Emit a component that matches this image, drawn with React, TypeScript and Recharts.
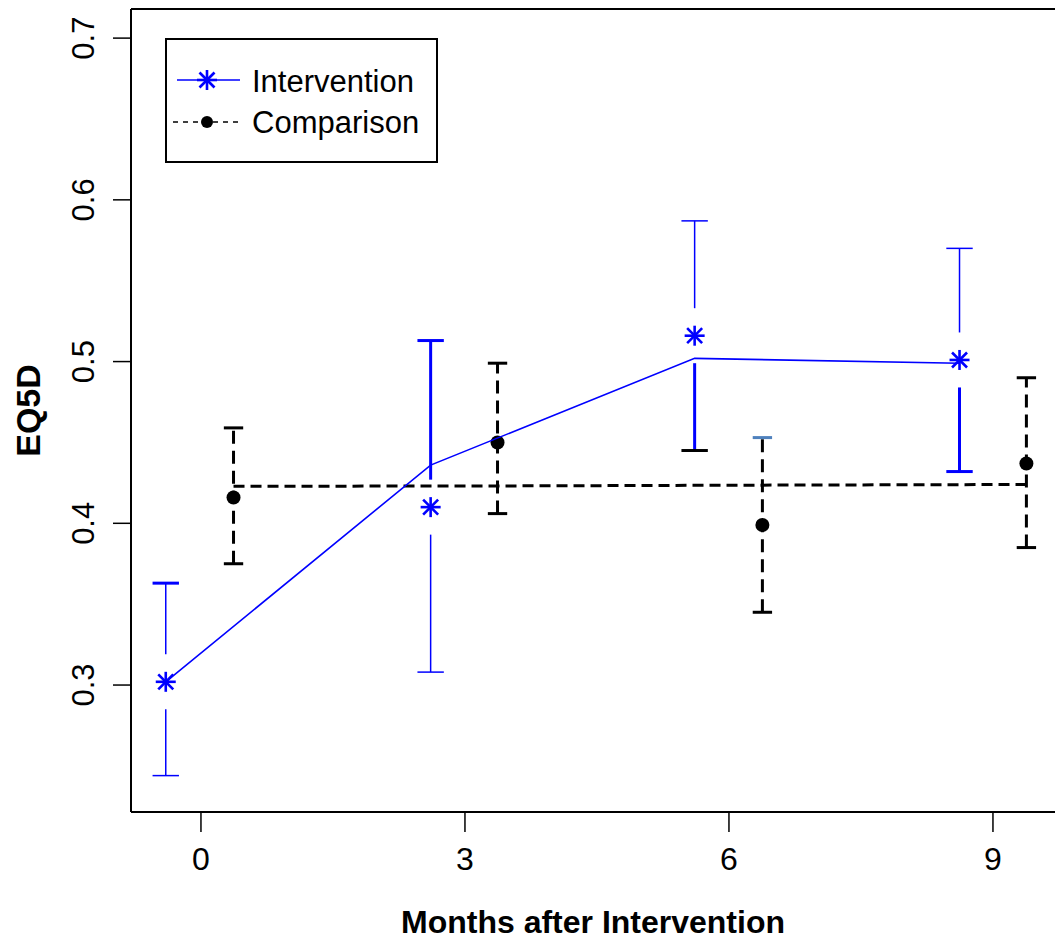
import React from "react";
import { ScatterChart, Scatter, XAxis, YAxis, ReferenceLine } from "recharts";

// months shown on the x axis and EQ5D ticks
const months = [0, 3, 6, 9];
const eqTicks = [0.3, 0.4, 0.5, 0.6, 0.7];

// intervention group (plotted slightly left of each month)
const interventionX = [-0.4, 2.61, 5.61, 8.62];
const interventionMean = [0.302, 0.41, 0.516, 0.501];
const interventionLow = [0.244, 0.308, 0.445, 0.432];
const interventionHigh = [0.363, 0.513, 0.587, 0.57];
const interventionFit = [0.302, 0.436, 0.502, 0.499];

// comparison group (plotted slightly right of each month)
const comparisonX = [0.37, 3.37, 6.38, 9.38];
const comparisonMean = [0.416, 0.45, 0.399, 0.437];
const comparisonLow = [0.375, 0.406, 0.345, 0.385];
const comparisonHigh = [0.459, 0.499, 0.453, 0.49];
const comparisonFit = [0.4229, 0.4231, 0.4236, 0.424];

const BLUE = "#0000ff";
const FONT = "'Liberation Sans', Arial, sans-serif";
const X_DOMAIN: [number, number] = [-0.795, 9.705];
const Y_DOMAIN: [number, number] = [0.2215, 0.718];
const STAR_GAP = 0.017; // whiskers stop short of the star marker

// some whiskers in the original were drawn twice and look heavier
const intUpperWidth = [1.5, 3, 1.5, 1.5];
const intLowerWidth = [1.5, 1.5, 3, 3];
const intUpperCapWidth = [3, 3, 1.5, 1.5];
const intLowerCapWidth = [1.5, 1.5, 3, 3];
const intLowerCapColor = [BLUE, BLUE, "#000000", BLUE];
const cmpUpperCapColor = ["#000000", "#000000", "#4f81bd", "#000000"];

const toRows = (xs: number[], ys: number[]) => xs.map((x, i) => ({ x, y: ys[i] }));

const interventionPoints = toRows(interventionX, interventionMean);
const interventionLine = toRows(interventionX, interventionFit);
const comparisonPoints = toRows(comparisonX, comparisonMean);
const comparisonLine = toRows(comparisonX, comparisonFit);

const seg = (
  key: string,
  x1: number,
  y1: number,
  x2: number,
  y2: number,
  stroke: string,
  width: number,
  dash?: string,
) => (
  <ReferenceLine
    key={key}
    segment={[
      { x: x1, y: y1 },
      { x: x2, y: y2 },
    ]}
    stroke={stroke}
    strokeWidth={width}
    strokeDasharray={dash}
  />
);

const Star = (props: any) => {
  const { cx, cy } = props;
  if (cx == null || cy == null) return <g />;
  const r = 10;
  const d = 7.5;
  return (
    <g stroke={BLUE} strokeWidth={2.6}>
      <line x1={cx - r} y1={cy} x2={cx + r} y2={cy} />
      <line x1={cx} y1={cy - r} x2={cx} y2={cy + r} />
      <line x1={cx - d} y1={cy - d} x2={cx + d} y2={cy + d} />
      <line x1={cx - d} y1={cy + d} x2={cx + d} y2={cy - d} />
    </g>
  );
};

const Dot = (props: any) => {
  const { cx, cy } = props;
  if (cx == null || cy == null) return <g />;
  return <circle cx={cx} cy={cy} r={7} fill="#000000" />;
};

const NoShape = () => <g />;

const XTick = (props: any) => {
  const { x, y, payload } = props;
  return (
    <text x={x} y={y} dy={36} textAnchor="middle" fontSize={32} fontFamily={FONT} fill="#000">
      {payload.value}
    </text>
  );
};

const YTick = (props: any) => {
  const { x, y, payload } = props;
  const bx = x - 17;
  return (
    <text
      x={bx}
      y={y}
      textAnchor="middle"
      fontSize={31}
      fontFamily={FONT}
      fill="#000"
      transform={`rotate(-90, ${bx}, ${y})`}
    >
      {payload.value.toFixed(1)}
    </text>
  );
};

const App: React.FC = () => {
  const intBars = interventionX.flatMap((x, i) => {
    const m = interventionMean[i];
    const lo = interventionLow[i];
    const hi = interventionHigh[i];
    const h = 0.15;
    return [
      seg(`iu${i}`, x, m + STAR_GAP, x, hi, BLUE, intUpperWidth[i]),
      seg(`iuc${i}`, x - h, hi, x + h, hi, BLUE, intUpperCapWidth[i]),
      seg(`il${i}`, x, lo, x, m - STAR_GAP, BLUE, intLowerWidth[i]),
      seg(`ilc${i}`, x - h, lo, x + h, lo, intLowerCapColor[i], intLowerCapWidth[i]),
    ];
  });

  const cmpBars = comparisonX.flatMap((x, i) => {
    const lo = comparisonLow[i];
    const hi = comparisonHigh[i];
    const h = 0.11;
    return [
      seg(`cv${i}`, x, lo, x, hi, "#000", 3, "13 7"),
      seg(`cuc${i}`, x - h, hi, x + h, hi, cmpUpperCapColor[i], 3),
      seg(`clc${i}`, x - h, lo, x + h, lo, "#000", 3),
    ];
  });

  return (
    <div style={{ position: "absolute", left: 0, top: 0, width: 1055, height: 945, fontFamily: FONT }}>
      <ScatterChart width={1055} height={945} margin={{ top: 9, right: 0, bottom: 0, left: 0 }}>
        <XAxis
          type="number"
          dataKey="x"
          domain={X_DOMAIN}
          ticks={months}
          allowDataOverflow
          height={133}
          tickSize={20}
          tick={<XTick />}
          tickLine={{ stroke: "#000", strokeWidth: 1.5 }}
          axisLine={{ stroke: "#000", strokeWidth: 2 }}
          label={{
            position: "insideBottom",
            content: (p: any) => (
              <text
                x={p.viewBox.x + p.viewBox.width / 2}
                y={933}
                textAnchor="middle"
                fontSize={32}
                fontWeight="bold"
                fontFamily={FONT}
                fill="#000"
              >
                Months after Intervention
              </text>
            ),
          }}
        />
        <YAxis
          type="number"
          dataKey="y"
          domain={Y_DOMAIN}
          ticks={eqTicks}
          allowDataOverflow
          width={131}
          tickSize={18}
          tick={<YTick />}
          tickLine={{ stroke: "#000", strokeWidth: 1.5 }}
          axisLine={{ stroke: "#000", strokeWidth: 2 }}
          label={{
            position: "insideLeft",
            content: (p: any) => {
              const cy = p.viewBox.y + p.viewBox.height / 2;
              return (
                <text
                  x={40}
                  y={cy}
                  textAnchor="middle"
                  fontSize={34}
                  fontWeight="bold"
                  fontFamily={FONT}
                  fill="#000"
                  transform={`rotate(-90, 40, ${cy})`}
                >
                  EQ5D
                </text>
              );
            },
          }}
        />
        <ReferenceLine y={Y_DOMAIN[1]} stroke="#000" strokeWidth={2} />
        {cmpBars}
        {intBars}
        <Scatter
          data={comparisonLine}
          shape={<NoShape />}
          line={{ stroke: "#000", strokeWidth: 3, strokeDasharray: "11 6" }}
          isAnimationActive={false}
        />
        <Scatter data={comparisonPoints} shape={<Dot />} isAnimationActive={false} />
        <Scatter
          data={interventionLine}
          shape={<NoShape />}
          line={{ stroke: BLUE, strokeWidth: 1.6 }}
          isAnimationActive={false}
        />
        <Scatter data={interventionPoints} shape={<Star />} isAnimationActive={false} />
      </ScatterChart>

      <svg
        width={273}
        height={125}
        style={{ position: "absolute", left: 165, top: 38, background: "#fff" }}
      >
        <rect x={1} y={1} width={271} height={123} fill="#fff" stroke="#000" strokeWidth={2} />
        <line x1={12} y1={42} x2={75} y2={42} stroke={BLUE} strokeWidth={1.6} />
        <Star cx={42} cy={42} />
        <text x={87} y={54} fontSize={31} fontFamily={FONT} fill="#000">
          Intervention
        </text>
        <line x1={8} y1={84} x2={75} y2={84} stroke="#000" strokeWidth={1.5} strokeDasharray="5 5" />
        <circle cx={42} cy={84} r={6} fill="#000" />
        <text x={87} y={95} fontSize={31} fontFamily={FONT} fill="#000">
          Comparison
        </text>
      </svg>
    </div>
  );
};

export default App;
